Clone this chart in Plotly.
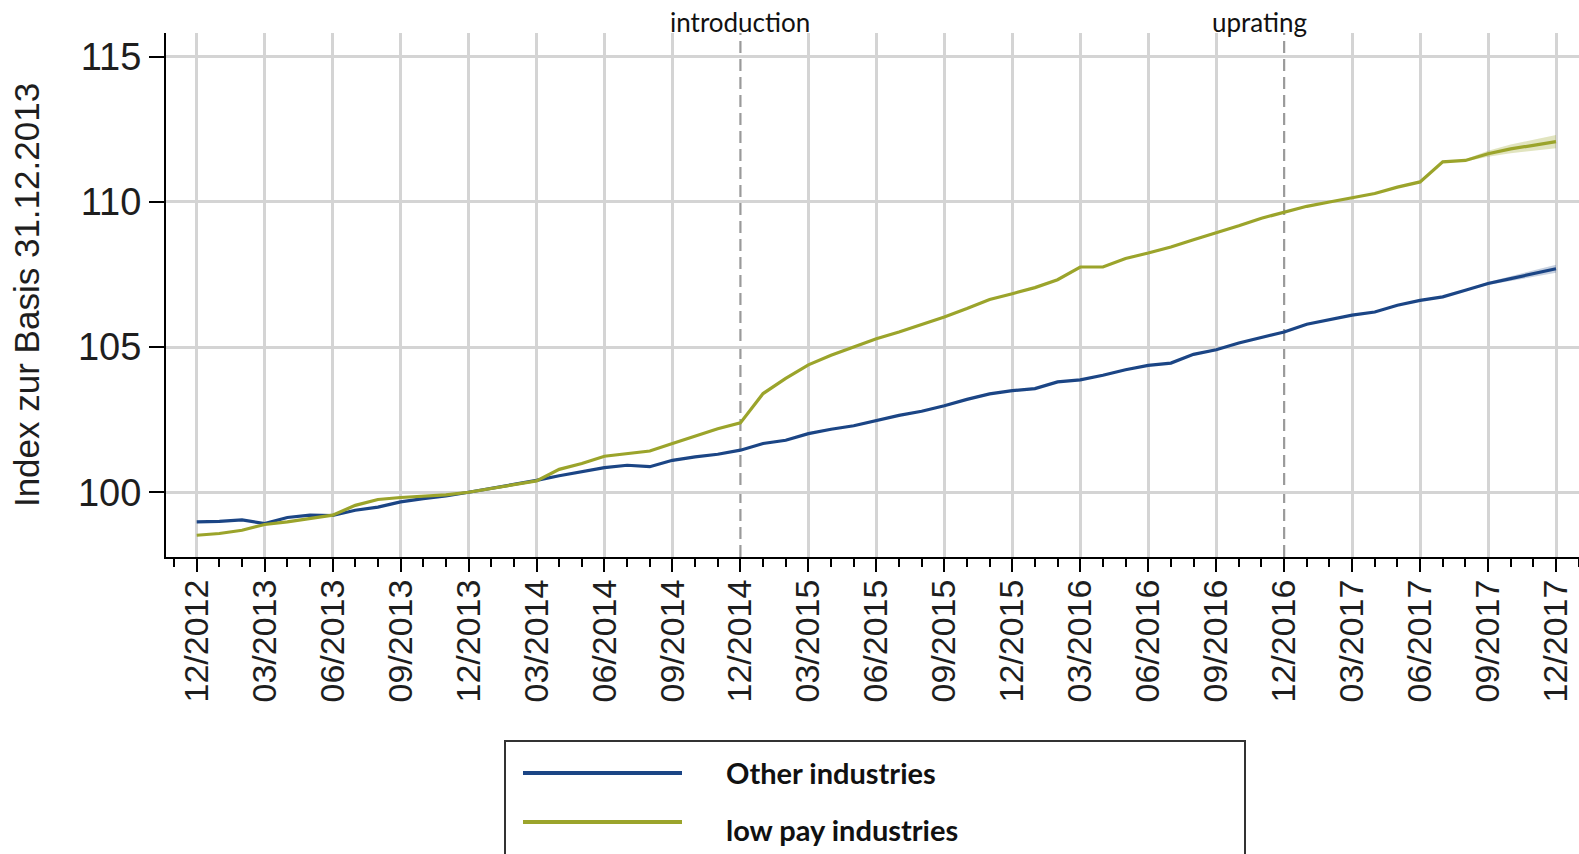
import plotly.graph_objects as go

# ---------------- data ----------------
months = list(range(61))  # 0 = 12/2012 ... 60 = 12/2017
tick_months = [0, 3, 6, 9, 12, 15, 18, 21, 24, 27, 30, 33, 36, 39, 42, 45, 48, 51, 54, 57, 60]
tick_labels = ["12/2012", "03/2013", "06/2013", "09/2013", "12/2013", "03/2014", "06/2014",
               "09/2014", "12/2014", "03/2015", "06/2015", "09/2015", "12/2015", "03/2016",
               "06/2016", "09/2016", "12/2016", "03/2017", "06/2017", "09/2017", "12/2017"]

other_industries = [98.98, 99.00, 99.05, 98.92, 99.13, 99.21, 99.20, 99.38, 99.49, 99.67,
                    99.78, 99.87, 100.00, 100.13, 100.27, 100.41, 100.57, 100.70, 100.85, 100.93,
                    100.88, 101.10, 101.22, 101.31, 101.45, 101.68, 101.79, 102.02, 102.17, 102.29,
                    102.47, 102.65, 102.79, 102.98, 103.20, 103.39, 103.50, 103.57, 103.80, 103.87,
                    104.03, 104.22, 104.37, 104.45, 104.75, 104.91, 105.14, 105.33, 105.52, 105.79,
                    105.95, 106.10, 106.21, 106.44, 106.61, 106.73, 106.96, 107.19, 107.36, 107.53,
                    107.70]
low_pay_industries = [98.52, 98.58, 98.69, 98.89, 98.98, 99.09, 99.21, 99.55, 99.75, 99.82,
                      99.86, 99.91, 100.00, 100.13, 100.27, 100.39, 100.79, 100.99, 101.24, 101.33,
                      101.42, 101.68, 101.93, 102.19, 102.39, 103.40, 103.92, 104.39, 104.72, 105.00,
                      105.29, 105.52, 105.77, 106.04, 106.33, 106.64, 106.84, 107.05, 107.32, 107.76,
                      107.76, 108.05, 108.24, 108.45, 108.70, 108.93, 109.18, 109.44, 109.65, 109.85,
                      110.00, 110.15, 110.29, 110.51, 110.69, 111.38, 111.43, 111.66, 111.83, 111.95,
                      112.08]

band_months = [56, 57, 58, 59, 60]
other_band_half = [0.02, 0.05, 0.08, 0.11, 0.14]
low_pay_band_half = [0.04, 0.10, 0.15, 0.19, 0.23]

event_months = [24, 48]
event_labels = ["introduction", "uprating"]
event_label_months = [24, 46.9]

series_names = ["Other industries", "low pay industries"]

# vertical grid at the quarterly ticks, except where event lines are drawn
grid_months = [m for m in tick_months if m not in event_months]

# ---------------- styling ----------------
BLUE = "#1b4585"
GREEN = "#9ba42b"
BLUE_BAND = "rgba(27,69,133,0.25)"
GREEN_BAND = "rgba(155,164,43,0.30)"
GRID = "#d4d4d4"
TXT = "#1e1e1e"

W, H = 1579, 854
ML, MR, MT, MB = 166, 0, 33, 297
PW, PH = W - ML - MR, H - MT - MB
XRANGE = [-1.355, 61.015]


def px_x(px):
    return (px - ML) / PW


def px_y(py):
    return (H - MB - py) / PH


fig = go.Figure()

# helper trace so that the grid-only overlay axis is drawn
fig.add_trace(go.Scatter(x=grid_months, y=[None] * len(grid_months), xaxis="x2",
                         mode="lines", showlegend=False, hoverinfo="skip"))


def band(center, half, color):
    upper = [center[m] + h for m, h in zip(band_months, half)]
    lower = [center[m] - h for m, h in zip(band_months, half)]
    fig.add_trace(go.Scatter(
        x=band_months + band_months[::-1], y=upper + lower[::-1],
        fill="toself", fillcolor=color, line=dict(width=0),
        mode="lines", showlegend=False, hoverinfo="skip"))


band(other_industries, other_band_half, BLUE_BAND)
band(low_pay_industries, low_pay_band_half, GREEN_BAND)

fig.add_trace(go.Scatter(x=months, y=other_industries, mode="lines", name=series_names[0],
                         line=dict(color=BLUE, width=3.2), showlegend=False))
fig.add_trace(go.Scatter(x=months, y=low_pay_industries, mode="lines", name=series_names[1],
                         line=dict(color=GREEN, width=3.2), showlegend=False))

shapes = []
annotations = []
for m, lab, lm in zip(event_months, event_labels, event_label_months):
    shapes.append(dict(type="line", xref="x", yref="paper", x0=m, x1=m, y0=0, y1=1,
                       line=dict(color="#9a9a9a", width=2.2, dash="12px,6px"), layer="below"))
    annotations.append(dict(x=lm, y=px_y(22), xref="x", yref="paper", text=lab,
                            showarrow=False, xanchor="center", yanchor="middle",
                            font=dict(family="Lato", size=26, color="#111111")))

# custom legend box
shapes.append(dict(type="rect", xref="paper", yref="paper",
                   x0=px_x(505), x1=px_x(1245), y0=px_y(880), y1=px_y(741),
                   line=dict(color="#333333", width=2), fillcolor="white", layer="above"))
for name, col, ly, ty in zip(series_names, [BLUE, GREEN], [773, 822], [772, 829]):
    shapes.append(dict(type="line", xref="paper", yref="paper",
                       x0=px_x(523), x1=px_x(682), y0=px_y(ly), y1=px_y(ly),
                       line=dict(color=col, width=4), layer="above"))
    annotations.append(dict(x=px_x(724), y=px_y(ty), xref="paper", yref="paper",
                            text="<b>" + name + "</b>", showarrow=False,
                            xanchor="left", yanchor="middle",
                            font=dict(family="Lato", size=29, color="#111111")))

fig.update_layout(
    width=W, height=H, autosize=False,
    margin=dict(l=ML, r=MR, t=MT, b=MB, pad=0),
    paper_bgcolor="white", plot_bgcolor="white",
    showlegend=False,
    shapes=shapes, annotations=annotations,
    font=dict(family="Liberation Sans", color=TXT),
    xaxis=dict(
        range=XRANGE, tickmode="array", tickvals=tick_months, ticktext=tick_labels,
        tickangle=-90, tickfont=dict(family="Liberation Sans", size=34, color=TXT),
        showgrid=False,
        showline=True, linecolor="black", linewidth=2,
        ticks="outside", ticklen=13, tickwidth=2, tickcolor="black",
        minor=dict(ticks="outside", ticklen=8, tickwidth=2, tickcolor="black",
                   tick0=0, dtick=1, showgrid=False),
        zeroline=False, ticklabelstandoff=-6,
    ),
    xaxis2=dict(overlaying="x", matches="x", side="bottom", tickmode="array",
                tickvals=grid_months, showticklabels=False, ticks="",
                showgrid=True, gridcolor=GRID, gridwidth=3,
                showline=False, zeroline=False),
    yaxis=dict(
        range=[97.77, 115.82], tickmode="array", tickvals=[100, 105, 110, 115],
        tickfont=dict(family="Liberation Sans", size=38, color=TXT),
        showgrid=True, gridcolor=GRID, gridwidth=3,
        showline=True, linecolor="black", linewidth=2,
        ticks="outside", ticklen=15, tickwidth=2, tickcolor="black",
        zeroline=False,
        title=dict(text="Index zur Basis 31.12.2013", standoff=28,
                   font=dict(family="Liberation Sans", size=35, color=TXT)),
    ),
)

fig.write_html("out.html")
